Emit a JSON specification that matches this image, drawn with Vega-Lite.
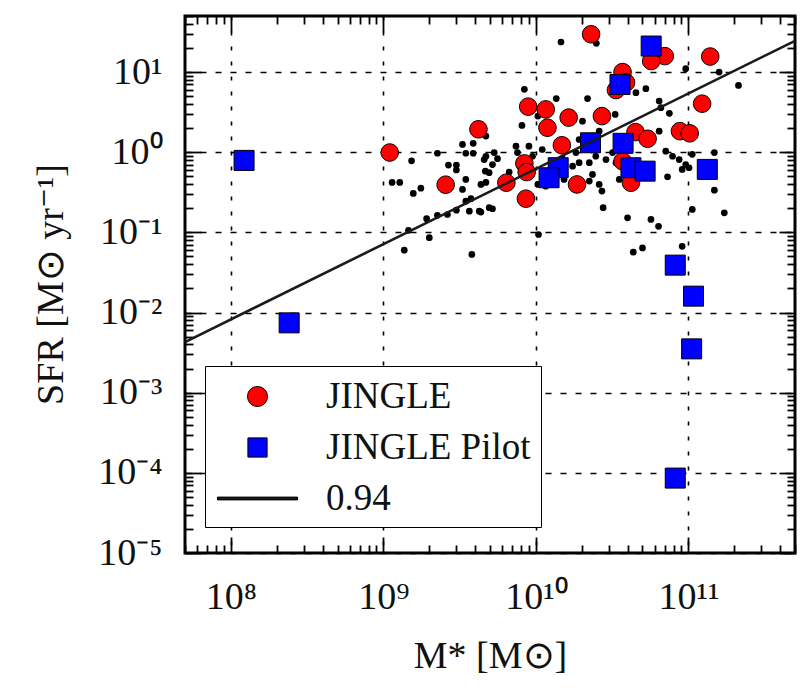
{
  "$schema": "https://vega.github.io/schema/vega-lite/v6.json",
  "autosize": "none",
  "padding": {"left": 185, "top": 16, "right": 11, "bottom": 144},
  "width": 610,
  "height": 537,
  "background": "white",
  "config": {
    "view": {"stroke": "#000", "strokeWidth": 3},
    "font": "Liberation Serif"
  },
  "datasets": {
    "dots": [
      {"M": 2.26e9, "SFR": 0.97}, {"M": 1.53e9, "SFR": 0.78}, {"M": 1.14e9, "SFR": 0.42}, {"M": 1.28e9, "SFR": 0.42},
      {"M": 1.57e9, "SFR": 0.306}, {"M": 1.76e9, "SFR": 0.356}, {"M": 3.3e9, "SFR": 1.25}, {"M": 3.88e9, "SFR": 1.29},
      {"M": 3.47e9, "SFR": 0.97}, {"M": 3.88e9, "SFR": 0.97}, {"M": 4.58e9, "SFR": 0.81}, {"M": 2.67e9, "SFR": 0.69},
      {"M": 3.01e9, "SFR": 0.69}, {"M": 3.01e9, "SFR": 0.6}, {"M": 4.66e9, "SFR": 0.58}, {"M": 3.47e9, "SFR": 0.457},
      {"M": 3.3e9, "SFR": 0.343}, {"M": 4.36e9, "SFR": 0.396}, {"M": 3.75e9, "SFR": 0.263}, {"M": 3.47e9, "SFR": 0.245},
      {"M": 3.66e9, "SFR": 0.184}, {"M": 4.36e9, "SFR": 0.179}, {"M": 3.01e9, "SFR": 0.189}, {"M": 2.63e9, "SFR": 0.167},
      {"M": 2.26e9, "SFR": 0.163}, {"M": 1.92e9, "SFR": 0.148}, {"M": 1.46e9, "SFR": 0.106}, {"M": 2.0e9, "SFR": 0.0857},
      {"M": 1.37e9, "SFR": 0.06}, {"M": 3.8e9, "SFR": 0.053}, {"M": 4.94e9, "SFR": 0.203},
      {"M": 1.46e10, "SFR": 23.7}, {"M": 2.49e10, "SFR": 22.8}, {"M": 9.6e10, "SFR": 11.0}, {"M": 1.59e11, "SFR": 10.0},
      {"M": 2.13e11, "SFR": 6.8}, {"M": 8.4e9, "SFR": 6.08}, {"M": 1.36e10, "SFR": 4.66}, {"M": 2.18e10, "SFR": 4.66},
      {"M": 4.53e10, "SFR": 5.53}, {"M": 5.26e10, "SFR": 6.2}, {"M": 6.43e10, "SFR": 4.35}, {"M": 6.6e10, "SFR": 3.59},
      {"M": 7.5e10, "SFR": 3.05}, {"M": 3.31e10, "SFR": 2.96}, {"M": 2.02e10, "SFR": 2.44}, {"M": 8.1e9, "SFR": 2.16},
      {"M": 1.03e10, "SFR": 2.82}, {"M": 4.7e9, "SFR": 1.59}, {"M": 6.43e10, "SFR": 1.83}, {"M": 2.6e10, "SFR": 1.83},
      {"M": 2.35e10, "SFR": 1.59}, {"M": 1.92e10, "SFR": 1.44}, {"M": 7.4e9, "SFR": 1.19}, {"M": 9.0e9, "SFR": 1.19},
      {"M": 7.57e9, "SFR": 0.99}, {"M": 5.33e9, "SFR": 0.99}, {"M": 4.7e9, "SFR": 0.89}, {"M": 5.6e9, "SFR": 0.83},
      {"M": 9.5e9, "SFR": 0.89}, {"M": 1.1e10, "SFR": 1.08}, {"M": 1.83e10, "SFR": 0.99}, {"M": 2.47e10, "SFR": 0.89},
      {"M": 2.88e10, "SFR": 0.81}, {"M": 3.18e10, "SFR": 0.99}, {"M": 1.92e10, "SFR": 0.74}, {"M": 2.24e10, "SFR": 0.74},
      {"M": 1.49e10, "SFR": 0.83}, {"M": 1.74e10, "SFR": 0.67}, {"M": 3.35e10, "SFR": 0.74}, {"M": 7.1e10, "SFR": 1.03},
      {"M": 7.87e10, "SFR": 0.89}, {"M": 8.7e10, "SFR": 0.81}, {"M": 9.6e10, "SFR": 0.7}, {"M": 1.06e11, "SFR": 0.94},
      {"M": 1.48e11, "SFR": 0.99}, {"M": 9.1e10, "SFR": 0.61}, {"M": 1.01e11, "SFR": 0.64}, {"M": 7.3e10, "SFR": 0.494},
      {"M": 1.48e11, "SFR": 0.336}, {"M": 1.72e11, "SFR": 0.175}, {"M": 1.06e11, "SFR": 0.193}, {"M": 2.76e10, "SFR": 0.203},
      {"M": 3.99e10, "SFR": 0.152}, {"M": 5.68e10, "SFR": 0.145}, {"M": 6.37e10, "SFR": 0.119}, {"M": 1.04e10, "SFR": 0.094},
      {"M": 5.0e10, "SFR": 0.064}, {"M": 4.35e10, "SFR": 0.0566}, {"M": 9.1e10, "SFR": 0.067}, {"M": 4.25e9, "SFR": 0.184},
      {"M": 5.19e9, "SFR": 0.197}, {"M": 4.94e9, "SFR": 0.555}, {"M": 4.7e9, "SFR": 0.42}, {"M": 6.68e9, "SFR": 0.565},
      {"M": 5.19e9, "SFR": 0.7}, {"M": 2.35e10, "SFR": 0.528}, {"M": 2.6e10, "SFR": 0.396}, {"M": 2.71e10, "SFR": 0.327},
      {"M": 1.53e10, "SFR": 0.457}, {"M": 2.24e10, "SFR": 0.436}, {"M": 1.16e10, "SFR": 0.377}, {"M": 1.03e10, "SFR": 0.396},
      {"M": 3.52e10, "SFR": 0.457}, {"M": 3.89e10, "SFR": 0.503}
    ],
    "jingle": [
      {"M": 1.1e9, "SFR": 0.99, "series": "JINGLE"}, {"M": 4.2e9, "SFR": 1.93, "series": "JINGLE"},
      {"M": 2.56e9, "SFR": 0.393, "series": "JINGLE"}, {"M": 2.3e10, "SFR": 29.6, "series": "JINGLE"},
      {"M": 7.0e10, "SFR": 15.8, "series": "JINGLE"}, {"M": 5.7e10, "SFR": 13.7, "series": "JINGLE"},
      {"M": 1.39e11, "SFR": 15.6, "series": "JINGLE"}, {"M": 3.7e10, "SFR": 10.0, "series": "JINGLE"},
      {"M": 3.9e10, "SFR": 7.4, "series": "JINGLE"}, {"M": 3.35e10, "SFR": 5.96, "series": "JINGLE"},
      {"M": 1.23e11, "SFR": 4.03, "series": "JINGLE"}, {"M": 8.9e9, "SFR": 3.7, "series": "JINGLE"},
      {"M": 1.16e10, "SFR": 3.42, "series": "JINGLE"}, {"M": 1.64e10, "SFR": 2.7, "series": "JINGLE"},
      {"M": 1.19e10, "SFR": 2.02, "series": "JINGLE"}, {"M": 2.71e10, "SFR": 2.82, "series": "JINGLE"},
      {"M": 8.8e10, "SFR": 1.83, "series": "JINGLE"}, {"M": 1.02e11, "SFR": 1.72, "series": "JINGLE"},
      {"M": 4.5e10, "SFR": 1.78, "series": "JINGLE"}, {"M": 5.4e10, "SFR": 1.47, "series": "JINGLE"},
      {"M": 1.48e10, "SFR": 1.22, "series": "JINGLE"}, {"M": 8.4e9, "SFR": 0.725, "series": "JINGLE"},
      {"M": 8.7e9, "SFR": 0.565, "series": "JINGLE"}, {"M": 6.4e9, "SFR": 0.416, "series": "JINGLE"},
      {"M": 8.6e9, "SFR": 0.263, "series": "JINGLE"}, {"M": 1.86e10, "SFR": 0.396, "series": "JINGLE"},
      {"M": 4.2e10, "SFR": 0.416, "series": "JINGLE"}, {"M": 3.7e10, "SFR": 0.77, "series": "JINGLE"}
    ],
    "pilot": [
      {"M": 1.22e8, "SFR": 0.79, "series": "JINGLE Pilot"}, {"M": 2.41e8, "SFR": 0.00743, "series": "JINGLE Pilot"},
      {"M": 5.7e10, "SFR": 21.1, "series": "JINGLE Pilot"}, {"M": 3.56e10, "SFR": 7.0, "series": "JINGLE Pilot"},
      {"M": 2.28e10, "SFR": 1.31, "series": "JINGLE Pilot"}, {"M": 3.73e10, "SFR": 1.29, "series": "JINGLE Pilot"},
      {"M": 1.4e10, "SFR": 0.64, "series": "JINGLE Pilot"}, {"M": 1.22e10, "SFR": 0.48, "series": "JINGLE Pilot"},
      {"M": 4.2e10, "SFR": 0.64, "series": "JINGLE Pilot"}, {"M": 5.2e10, "SFR": 0.58, "series": "JINGLE Pilot"},
      {"M": 1.33e11, "SFR": 0.61, "series": "JINGLE Pilot"}, {"M": 8.2e10, "SFR": 0.039, "series": "JINGLE Pilot"},
      {"M": 1.08e11, "SFR": 0.016, "series": "JINGLE Pilot"}, {"M": 1.05e11, "SFR": 0.00352, "series": "JINGLE Pilot"},
      {"M": 8.2e10, "SFR": 0.000086, "series": "JINGLE Pilot"}
    ],
    "fit": [
      {"M": 5e7, "SFR": 0.00427},
      {"M": 5e11, "SFR": 24.5}
    ]
  },
  "resolve": {"axis": {"x": "independent", "y": "independent"}},
  "layer": [
    {
      "data": {"name": "dots"},
      "mark": {"type": "point", "filled": true, "shape": "circle", "size": 45, "color": "#000", "opacity": 1},
      "encoding": {
        "x": {
          "field": "M", "type": "quantitative",
          "scale": {"type": "log", "domain": [5e7, 5e11], "nice": false},
          "axis": {
            "orient": "bottom",
            "values": [5e7, 6e7, 7e7, 8e7, 9e7, 1e8, 2e8, 3e8, 4e8, 5e8, 6e8, 7e8, 8e8, 9e8, 1e9, 2e9, 3e9, 4e9, 5e9, 6e9, 7e9, 8e9, 9e9, 1e10, 2e10, 3e10, 4e10, 5e10, 6e10, 7e10, 8e10, 9e10, 1e11, 2e11, 3e11, 4e11, 5e11],
            "domain": false,
            "grid": true,
            "gridColor": "#000",
            "gridWidth": 1.6,
            "gridDash": [4, 11],
            "gridOpacity": {"condition": {"test": "abs(log(datum.value)/LN10 - round(log(datum.value)/LN10)) < 0.001", "value": 1}, "value": 0},
            "ticks": true,
            "tickColor": "#000",
            "tickWidth": 1.8,
            "tickSize": {"condition": {"test": "abs(log(datum.value)/LN10 - round(log(datum.value)/LN10)) < 0.001", "value": -16}, "value": -8},
            "labelExpr": "abs(log(datum.value)/LN10 - round(log(datum.value)/LN10)) > 0.001 ? '' : round(log(datum.value)/LN10) == 8 ? '10⁸' : round(log(datum.value)/LN10) == 9 ? '10⁹' : round(log(datum.value)/LN10) == 10 ? '10¹⁰' : round(log(datum.value)/LN10) == 11 ? '10¹¹' : ''",
            "labelFont": "Liberation Serif",
            "labelFontSize": 38,
            "labelColor": "#111",
            "labelBaseline": "alphabetic",
            "labelPadding": 71,
            "labelOverlap": false,
            "labelFlush": false,
            "title": "M* [M⊙]",
            "titleFont": "Liberation Serif",
            "titleFontSize": 38,
            "titleFontWeight": "normal",
            "titleColor": "#111",
            "titleX": 305,
            "titleY": 114,
            "titleBaseline": "alphabetic",
            "titleAlign": "center"
          }
        },
        "y": {
          "field": "SFR", "type": "quantitative",
          "scale": {"type": "log", "domain": [0.00001, 50], "nice": false},
          "axis": {
            "orient": "left",
            "values": [0.00001, 0.00002, 0.00003, 0.00004, 0.00005, 0.00006, 0.00007, 0.00008, 0.00009, 0.0001, 0.0002, 0.0003, 0.0004, 0.0005, 0.0006, 0.0007, 0.0008, 0.0009, 0.001, 0.002, 0.003, 0.004, 0.005, 0.006, 0.007, 0.008, 0.009, 0.01, 0.02, 0.03, 0.04, 0.05, 0.06, 0.07, 0.08, 0.09, 0.1, 0.2, 0.3, 0.4, 0.5, 0.6, 0.7, 0.8, 0.9, 1, 2, 3, 4, 5, 6, 7, 8, 9, 10, 20, 30, 40, 50],
            "domain": false,
            "grid": true,
            "gridColor": "#000",
            "gridWidth": 1.6,
            "gridDash": [6, 9],
            "gridOpacity": {"condition": {"test": "abs(log(datum.value)/LN10 - round(log(datum.value)/LN10)) < 0.001", "value": 1}, "value": 0},
            "ticks": true,
            "tickColor": "#000",
            "tickWidth": 1.8,
            "tickSize": {"condition": {"test": "abs(log(datum.value)/LN10 - round(log(datum.value)/LN10)) < 0.001", "value": -16}, "value": -8},
            "labelExpr": "abs(log(datum.value)/LN10 - round(log(datum.value)/LN10)) > 0.001 ? '' : round(log(datum.value)/LN10) == -5 ? '10⁻⁵' : round(log(datum.value)/LN10) == -4 ? '10⁻⁴' : round(log(datum.value)/LN10) == -3 ? '10⁻³' : round(log(datum.value)/LN10) == -2 ? '10⁻²' : round(log(datum.value)/LN10) == -1 ? '10⁻¹' : round(log(datum.value)/LN10) == 0 ? '10⁰' : round(log(datum.value)/LN10) == 1 ? '10¹' : ''",
            "labelFont": "Liberation Serif",
            "labelFontSize": 38,
            "labelColor": "#111",
            "labelBaseline": "middle",
            "labelPadding": 39,
            "labelOverlap": false,
            "labelFlush": false,
            "title": "SFR [M⊙ yr⁻¹]",
            "titleFont": "Liberation Serif",
            "titleFontSize": 38,
            "titleFontWeight": "normal",
            "titleColor": "#111",
            "titleAngle": -90,
            "titleX": -123,
            "titleY": 268,
            "titleBaseline": "alphabetic",
            "titleAlign": "center"
          }
        }
      }
    },
    {
      "data": {"name": "jingle"},
      "mark": {"type": "point", "filled": true, "size": 1225, "stroke": "#000", "strokeWidth": 1, "opacity": 1},
      "encoding": {
        "x": {
          "field": "M", "type": "quantitative",
          "axis": {
            "orient": "top",
            "values": [5e7, 6e7, 7e7, 8e7, 9e7, 1e8, 2e8, 3e8, 4e8, 5e8, 6e8, 7e8, 8e8, 9e8, 1e9, 2e9, 3e9, 4e9, 5e9, 6e9, 7e9, 8e9, 9e9, 1e10, 2e10, 3e10, 4e10, 5e10, 6e10, 7e10, 8e10, 9e10, 1e11, 2e11, 3e11, 4e11, 5e11],
            "domain": false, "grid": false, "labels": false, "title": null,
            "tickColor": "#000", "tickWidth": 1.8,
            "tickSize": {"condition": {"test": "abs(log(datum.value)/LN10 - round(log(datum.value)/LN10)) < 0.001", "value": -16}, "value": -8}
          }
        },
        "y": {
          "field": "SFR", "type": "quantitative",
          "axis": {
            "orient": "right",
            "values": [0.00001, 0.00002, 0.00003, 0.00004, 0.00005, 0.00006, 0.00007, 0.00008, 0.00009, 0.0001, 0.0002, 0.0003, 0.0004, 0.0005, 0.0006, 0.0007, 0.0008, 0.0009, 0.001, 0.002, 0.003, 0.004, 0.005, 0.006, 0.007, 0.008, 0.009, 0.01, 0.02, 0.03, 0.04, 0.05, 0.06, 0.07, 0.08, 0.09, 0.1, 0.2, 0.3, 0.4, 0.5, 0.6, 0.7, 0.8, 0.9, 1, 2, 3, 4, 5, 6, 7, 8, 9, 10, 20, 30, 40, 50],
            "domain": false, "grid": false, "labels": false, "title": null,
            "tickColor": "#000", "tickWidth": 1.8,
            "tickSize": {"condition": {"test": "abs(log(datum.value)/LN10 - round(log(datum.value)/LN10)) < 0.001", "value": -16}, "value": -8}
          }
        },
        "color": {
          "field": "series", "type": "nominal",
          "scale": {"domain": ["JINGLE", "JINGLE Pilot", "0.94"], "range": ["#ff0000", "#0000ff", "#1a1a1a"]},
          "legend": {
            "orient": "none",
            "legendX": 20,
            "legendY": 350,
            "title": null,
            "fillColor": "#ffffff",
            "strokeColor": "#000000",
            "padding": 10,
            "rowPadding": 12,
            "symbolSize": 1600,
            "symbolOffset": 22,
            "symbolStrokeColor": "#000000",
            "symbolStrokeWidth": 1,
            "labelOffset": 48,
            "labelFont": "Liberation Serif",
            "labelFontSize": 37,
            "labelColor": "#111",
            "labelLimit": 400,
            "encode": {"legend": {"update": {"strokeWidth": {"value": 3}}}}
          }
        },
        "shape": {
          "field": "series", "type": "nominal",
          "scale": {"domain": ["JINGLE", "JINGLE Pilot", "0.94"], "range": ["M0.5,0A0.5,0.5,0,1,1,-0.5,0A0.5,0.5,0,1,1,0.5,0Z", "M-0.48,-0.48H0.48V0.48H-0.48Z", "M-2,-0.07H2V0.07H-2Z"]},
          "legend": {
            "orient": "none",
            "legendX": 20,
            "legendY": 350,
            "title": null,
            "fillColor": "#ffffff",
            "strokeColor": "#000000",
            "padding": 10,
            "rowPadding": 12,
            "symbolSize": 1600,
            "symbolOffset": 22,
            "symbolStrokeColor": "#000000",
            "symbolStrokeWidth": 1,
            "labelOffset": 48,
            "labelFont": "Liberation Serif",
            "labelFontSize": 37,
            "labelColor": "#111",
            "labelLimit": 400,
            "encode": {"legend": {"update": {"strokeWidth": {"value": 3}}}}
          }
        }
      }
    },
    {
      "data": {"name": "pilot"},
      "mark": {"type": "point", "filled": true, "size": 1736, "stroke": "#000", "strokeWidth": 1, "opacity": 1},
      "encoding": {
        "x": {"field": "M", "type": "quantitative", "axis": null},
        "y": {"field": "SFR", "type": "quantitative", "axis": null},
        "color": {"field": "series", "type": "nominal"},
        "shape": {"field": "series", "type": "nominal"}
      }
    },
    {
      "data": {"name": "fit"},
      "mark": {"type": "line", "color": "#1a1a1a", "strokeWidth": 2.6},
      "encoding": {
        "x": {"field": "M", "type": "quantitative", "axis": null},
        "y": {"field": "SFR", "type": "quantitative", "axis": null}
      }
    }
  ]
}
